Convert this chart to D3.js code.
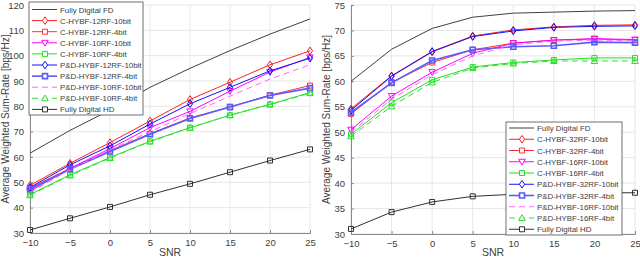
<!DOCTYPE html>
<meta charset="utf-8">
<script src="https://d3js.org/d3.v7.min.js"></script>
<style>
  body { margin: 0; background: #fff; }
  text { font-family: "Liberation Sans", Arial, sans-serif; fill: #404040; }
</style>
<body>
<div id="chart"></div>
<script>
// SNR points (x axis)
var snr = [-10, -5, 0, 5, 10, 15, 20, 25];
var xTicks = [-10, -5, 0, 5, 10, 15, 20, 25];

// left panel
var leftYTicks = [30, 40, 50, 60, 70, 80, 90, 100, 110, 120];
var leftNames = ["Fully Digital FD", "C-HYBF-12RF-10bit", "C-HYBF-12RF-4bit", "C-HYBF-10RF-10bit",
  "C-HYBF-10RF-4bit", "P&D-HYBF-12RF-10bit", "P&D-HYBF-12RF-4bit", "P&D-HYBF-10RF-10bit",
  "P&D-HYBF-10RF-4bit", "Fully Digital HD"];
var fdL    = [61.5, 70.5, 78.5, 87.5, 95, 102, 108.5, 114.5];
var c12_10 = [48.8, 57.5, 65.7, 74.2, 82.7, 89.5, 96.4, 101.9];
var c12_4  = [47.8, 55.5, 62.5, 69.2, 75.4, 79.8, 84.4, 88.2];
var c10_10 = [46.5, 55.5, 63.3, 71.6, 78, 86, 93.5, 99.3];
var c10_4  = [45.2, 53, 59.8, 66.2, 71.6, 76.5, 80.8, 85.4];
var pd12_10 = [48, 56.9, 64.4, 73, 81, 87.5, 94, 99];
var pd12_4  = [47.3, 55.2, 62.2, 69, 75.2, 79.7, 84.3, 87.2];
var pd10_10 = [46, 55, 62.8, 70, 77.1, 84, 90.8, 96.4];
var pd10_4  = [44.9, 52.7, 59.6, 66.1, 71.5, 76.5, 80.7, 85.2];
var hdL    = [31.2, 35.8, 40.3, 45.1, 49.4, 54, 58.6, 63];

// right panel
var rightYTicks = [30, 35, 40, 45, 50, 55, 60, 65, 70, 75];
var rightNames = ["Fully Digital FD", "C-HYBF-32RF-10bit", "C-HYBF-32RF-4bit", "C-HYBF-16RF-10bit",
  "C-HYBF-16RF-4bit", "P&D-HYBF-32RF-10bit", "P&D-HYBF-32RF-4bit", "P&D-HYBF-16RF-10bit",
  "P&D-HYBF-16RF-4bit", "Fully Digital HD"];
var fdR    = [60, 66.3, 70.4, 72.6, 73.4, 73.6, 73.8, 73.9];
var c32_10 = [54.6, 61.1, 65.9, 68.9, 70.1, 70.7, 71, 71.1];
var c32_4  = [53.6, 59.8, 63.7, 66.2, 67.5, 68.1, 68.3, 68.1];
var c16_10 = [50.5, 57.1, 61.8, 65.5, 67.5, 68.1, 68.4, 68.2];
var c16_4  = [49.6, 55.8, 60.3, 62.8, 63.7, 64.2, 64.6, 64.6];
var pd32_10 = [54.3, 61, 65.8, 68.8, 69.9, 70.6, 70.8, 70.9];
var pd32_4  = [53.9, 59.7, 64.1, 66.2, 66.8, 67, 67.7, 67.6];
var pd16_10 = [50, 56.5, 61.3, 65, 67.2, 67.9, 68.1, 68];
var pd16_4  = [49.2, 55.1, 59.8, 62.6, 63.5, 64, 64, 64];
var hdR    = [31, 34.3, 36.3, 37.4, 37.8, 38, 38.1, 38.1];

// line styles, same order as the legends
var styles = [
  {color: "#404040", marker: null,   dash: null, w: 1},
  {color: "#ff2020", marker: "diam", dash: null, w: 1},
  {color: "#ff3030", marker: "sq",   dash: null, w: 1},
  {color: "#ff00ff", marker: "tdown", dash: null, w: 1},
  {color: "#20e020", marker: "sq",   dash: null, w: 1},
  {color: "#1010ff", marker: "diam", dash: null, w: 1},
  {color: "#5a5aff", marker: "sq",   dash: null, w: 1.6},
  {color: "#ff66ff", marker: null,   dash: "6,4", w: 1},
  {color: "#30e030", marker: "tup",  dash: "6,4", w: 1},
  {color: "#303030", marker: "sq",   dash: null, w: 1}
];

var svg = d3.select("#chart").append("svg")
  .attr("width", 640).attr("height", 261);

function markerPath(type) {
  if (type == "diam") return "M0,-3.8L2.6,0L0,3.8L-2.6,0Z";
  if (type == "sq") return "M-2.5,-2.5H2.5V2.5H-2.5Z";
  if (type == "tdown") return "M-3.3,-2.5H3.3L0,3.3Z";
  if (type == "tup") return "M-3.3,2.5H3.3L0,-3.3Z";
  return null;
}

function drawPanel(p) {
  var x = d3.scaleLinear().domain([-10, 25]).range([p.x0, p.x1]);
  var y = d3.scaleLinear().domain(p.yDom).range([p.y1, p.y0]);
  var g = svg.append("g");

  // grid
  g.selectAll(".gx").data(xTicks).enter().append("line")
    .attr("x1", d => x(d)).attr("x2", d => x(d))
    .attr("y1", p.y0).attr("y2", p.y1)
    .attr("stroke", "#e6e6e6");
  g.selectAll(".gy").data(p.yTicks).enter().append("line")
    .attr("x1", p.x0).attr("x2", p.x1)
    .attr("y1", d => y(d)).attr("y2", d => y(d))
    .attr("stroke", "#e6e6e6");

  // axes
  var ax = g.append("g").attr("transform", "translate(0," + p.y1 + ")")
    .call(d3.axisBottom(x).tickValues(xTicks).tickSize(-3).tickPadding(6).tickFormat(d3.format("d")));
  var ay = g.append("g").attr("transform", "translate(" + p.x0 + ",0)")
    .call(d3.axisLeft(y).tickValues(p.yTicks).tickSize(-3).tickPadding(6).tickFormat(d3.format("d")));
  [ax, ay].forEach(function(a) {
    a.select(".domain").attr("stroke", "#8a8a8a");
    a.selectAll(".tick line").attr("stroke", "#8a8a8a");
    a.selectAll("text").attr("font-size", 9.5).attr("fill", "#404040")
      .attr("font-family", "Liberation Sans, Arial, sans-serif");
  });

  g.append("text").attr("x", (p.x0 + p.x1) / 2).attr("y", 256)
    .attr("text-anchor", "middle").attr("font-size", 10.5).text("SNR");
  g.append("text")
    .attr("transform", "translate(" + p.yLabX + "," + ((p.y0 + p.y1) / 2) + ") rotate(-90)")
    .attr("text-anchor", "middle").attr("font-size", 10).text("Average Weighted Sum-Rate [bps/Hz]");

  var line = d3.line().x((d, i) => x(snr[i])).y(d => y(d));

  p.series.forEach(function(vals, k) {
    var s = styles[k];
    g.append("path").datum(vals).attr("d", line)
      .attr("fill", "none").attr("stroke", s.color).attr("stroke-width", s.w)
      .attr("stroke-dasharray", s.dash);
    if (s.marker) {
      g.selectAll(null).data(vals).enter().append("path")
        .attr("d", markerPath(s.marker))
        .attr("transform", (d, i) => "translate(" + x(snr[i]) + "," + y(d) + ")")
        .attr("fill", "none").attr("stroke", s.color).attr("stroke-width", s.w);
    }
  });

  // legend
  var L = p.leg;
  var lg = g.append("g");
  lg.append("rect").attr("x", L.x).attr("y", L.y).attr("width", L.w).attr("height", L.h)
    .attr("fill", "#fff").attr("stroke", "#4d4d4d").attr("stroke-width", 0.8);
  p.names.forEach(function(name, k) {
    var s = styles[k];
    var yy = L.first + k * L.step;
    lg.append("line").attr("x1", L.x + 3).attr("x2", L.x + 28).attr("y1", yy).attr("y2", yy)
      .attr("stroke", s.color).attr("stroke-width", s.w).attr("stroke-dasharray", s.dash);
    if (s.marker) {
      lg.append("path").attr("d", markerPath(s.marker))
        .attr("transform", "translate(" + (L.x + 16) + "," + yy + ")")
        .attr("fill", "#fff").attr("stroke", s.color).attr("stroke-width", s.w);
    }
    lg.append("text").attr("x", L.x + 31).attr("y", yy + 3).attr("font-size", 7.9)
      .attr("fill", "#262626").text(name);
  });
}

drawPanel({
  x0: 30, x1: 310, y0: 5, y1: 233, yDom: [30, 120], yTicks: leftYTicks, yLabX: 9,
  series: [fdL, c12_10, c12_4, c10_10, c10_4, pd12_10, pd12_4, pd10_10, pd10_4, hdL],
  names: leftNames,
  leg: {x: 29, y: 2, w: 114, h: 113, first: 9.5, step: 11.1}
});

drawPanel({
  x0: 351, x1: 635, y0: 5, y1: 234, yDom: [30, 75], yTicks: rightYTicks, yLabX: 330,
  series: [fdR, c32_10, c32_4, c16_10, c16_4, pd32_10, pd32_4, pd16_10, pd16_4, hdR],
  names: rightNames,
  leg: {x: 506, y: 122, w: 116, h: 113, first: 128, step: 11.25}
});
</script>
</body>
